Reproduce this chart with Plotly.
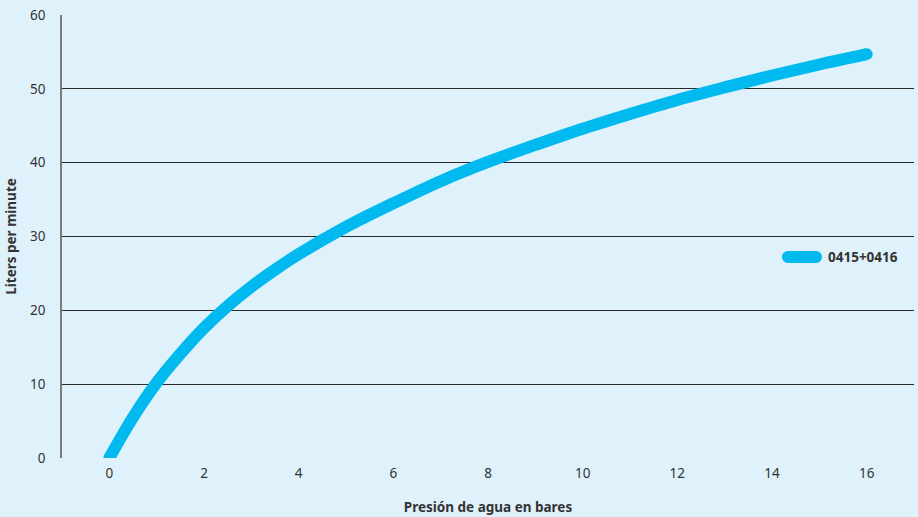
import plotly.graph_objects as go

# presion (bar) vs caudal (l/min)
presion = [0, 0.5, 1, 1.5, 2, 2.5, 3, 3.5, 4, 5, 6, 7, 8, 9, 10, 11, 12, 13, 14, 15, 16]
caudal = [0, 5.5, 10.2, 14.1, 17.6, 20.6, 23.2, 25.5, 27.6, 31.3, 34.5, 37.5, 40.1,
          42.4, 44.6, 46.6, 48.5, 50.2, 51.8, 53.3, 54.7]
serie = "0415+0416"
x_ticks = [0, 2, 4, 6, 8, 10, 12, 14, 16]
y_ticks = [0, 10, 20, 30, 40, 50, 60]

azul = "#00b9ee"
fondo = "#dff2fb"
texto = "#333333"

fig = go.Figure()

fig.add_trace(go.Scatter(x=presion, y=caudal, mode="lines", name=serie, showlegend=False,
                         line=dict(color=azul, width=12, shape="spline", smoothing=1)))

# round caps at both ends
fig.add_trace(go.Scatter(x=[presion[0], presion[-1]], y=[caudal[0], caudal[-1]],
                         mode="markers", showlegend=False, hoverinfo="skip",
                         marker=dict(color=azul, size=12, line_width=0)))

# legend drawn by hand: a thick pill + bold label
ly = 0.4537
lx0, lx1 = 0.852, 0.885
fig.add_shape(type="line", xref="paper", yref="paper", x0=lx0, x1=lx1, y0=ly, y1=ly,
              line=dict(color=azul, width=12))
for ax in (lx0, lx1):
    fig.add_shape(type="circle", xref="paper", yref="paper", xsizemode="pixel",
                  ysizemode="pixel", xanchor=ax, yanchor=ly, x0=-6, x1=6, y0=-6, y1=6,
                  fillcolor=azul, line_width=0)
fig.add_annotation(xref="paper", yref="paper", x=0.897, y=ly, xanchor="left",
                   yanchor="middle", showarrow=False, text="<b>" + serie + "</b>",
                   font=dict(size=13.5, color=texto))

fig.update_layout(
    width=918, height=517,
    paper_bgcolor=fondo, plot_bgcolor=fondo,
    margin=dict(l=62, r=4, t=15, b=59, autoexpand=False),
    font=dict(family="Noto Sans", size=13.5, color=texto),
    showlegend=False,
)

fig.update_xaxes(range=[-1, 17], tickvals=x_ticks, showgrid=False, zeroline=False,
                 showline=False, ticks="", ticklabelstandoff=5, automargin=False,
                 title=dict(text="Presión de agua en bares",
                            font=dict(size=13.5, weight="bold"), standoff=22))
fig.update_yaxes(range=[0, 60], tickvals=y_ticks, showgrid=True, gridcolor="#2b2b2b",
                 gridwidth=1, zeroline=False, showline=True, linecolor="#7a7a7a",
                 linewidth=1.5, ticks="", ticklabelstandoff=12, automargin=False,
                 title=dict(text="Liters per minute",
                            font=dict(size=13.5, weight="bold"), standoff=10))

fig.write_html("out.html", config={"displayModeBar": False},
               post_script="document.body.style.margin='0';")
